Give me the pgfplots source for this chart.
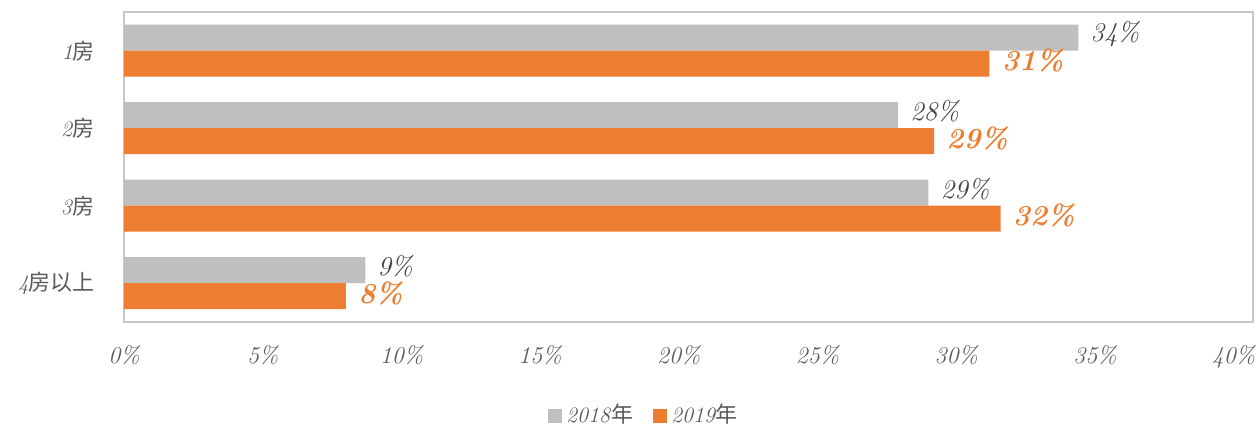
\documentclass[border=0pt]{standalone}
\usepackage{pgfplots}
\pgfplotsset{compat=1.18}
\usepackage{fontspec}
\newfontfamily\cjk{Noto Sans CJK SC}
\definecolor{g18}{HTML}{BFBFBF}
\definecolor{o19}{HTML}{ED7D31}
\definecolor{txt}{HTML}{595959}
\definecolor{frame}{HTML}{C8C8C8}
\begin{document}
\begin{tikzpicture}
\useasboundingbox (0,0) rectangle (629pt,214pt);
\begin{axis}[
  at={(62pt,53pt)}, anchor=south west,
  width=564.5pt, height=155pt, scale only axis,
  xmin=0, xmax=40.7, ymin=-0.5, ymax=3.5,
  xtick={0,5,...,40},
  xticklabel={\pgfmathprintnumber{\tick}\%},
  /pgf/number format/assume math mode=true,
  ytick={0,1,2,3},
  yticklabels={{\textit{4}{\cjk 房以上}},{\textit{3}{\cjk 房}},{\textit{2}{\cjk 房}},{\textit{1}{\cjk 房}}},
  major tick length=0pt,
  axis line style={draw=frame, line width=0.8pt},
  xticklabel style={font=\fontsize{12}{14}\selectfont\itshape, text=txt, yshift=-8pt},
  yticklabel style={font=\fontsize{11}{13}\selectfont, text=txt, xshift=-11pt},
  legend style={at={(0.4615,-0.30)}, anchor=center, draw=none, legend columns=2,
    font=\fontsize{11}{13}\selectfont, text=txt,
    /tikz/every even column/.append style={column sep=8pt}},
  legend image code/.code={\fill[#1] (0pt,-4pt) rectangle (7pt,3pt);},
  clip=false,
]
\addplot[xbar, bar width=13pt, bar shift=6.5pt, fill=g18, draw=none,
  point meta=x,
  nodes near coords={\pgfmathprintnumber[fixed,precision=0]{\pgfplotspointmeta}\%},
  nodes near coords style={anchor=west, inner sep=1pt, xshift=5pt, yshift=8.5pt, text=black!75, font=\fontsize{13.5}{15}\selectfont\itshape}]
  coordinates {(34.4,3) (27.9,2) (29.0,1) (8.7,0)};
\addplot[xbar, bar width=13pt, bar shift=-6.5pt, fill=o19, draw=none,
  point meta=x,
  nodes near coords={\pgfmathprintnumber[fixed,precision=0]{\pgfplotspointmeta}\%},
  nodes near coords style={anchor=west, inner sep=1pt, xshift=5pt, yshift=-5pt, text=o19, font=\fontsize{14.5}{16}\selectfont\bfseries\itshape}]
  coordinates {(31.2,3) (29.2,2) (31.6,1) (8.0,0)};
\legend{{\textit{2018}{\cjk 年}},{\textit{2019}{\cjk 年}}}
\end{axis}
\end{tikzpicture}
\end{document}
